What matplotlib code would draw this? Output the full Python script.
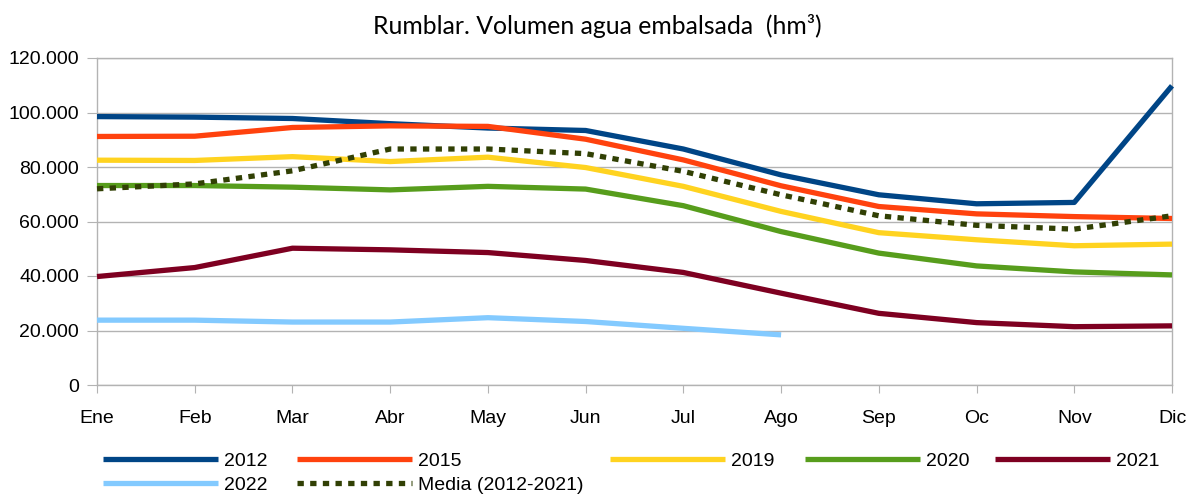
import matplotlib
matplotlib.use("Agg")
import matplotlib.pyplot as plt
from matplotlib.ticker import FuncFormatter
from matplotlib.lines import Line2D

months = ["Ene", "Feb", "Mar", "Abr", "May", "Jun", "Jul", "Ago", "Sep", "Oc", "Nov", "Dic"]

v2012 = [98500, 98300, 97800, 95900, 94300, 93400, 86600, 77100, 69800, 66500, 67000, 109800]
v2015 = [91200, 91300, 94500, 95100, 94900, 90200, 82600, 73100, 65500, 62800, 61800, 61100]
v2019 = [82500, 82400, 83800, 82000, 83600, 79800, 72900, 63700, 55900, 53300, 51100, 51700]
v2020 = [73200, 73200, 72600, 71600, 72900, 71900, 65800, 56300, 48400, 43700, 41500, 40400]
v2021 = [39800, 43100, 50200, 49600, 48600, 45700, 41300, 33700, 26300, 22900, 21400, 21700]
v2022 = [23800, 23800, 23100, 23100, 24700, 23300, 20800, 18400]
media = [72000, 73800, 78600, 86600, 86600, 84900, 78400, 69800, 62100, 58600, 57200, 62100]

series = [
    ("2012", v2012, "#004586"),
    ("2015", v2015, "#ff420e"),
    ("2019", v2019, "#ffd320"),
    ("2020", v2020, "#579d1c"),
    ("2021", v2021, "#7e0021"),
    ("2022", v2022, "#83caff"),
]

W, H = 1195, 495
LW = 3.8
DOTS = (0, (1.2, 1.2))

fig = plt.figure(figsize=(W / 100, H / 100), dpi=100)
ax = fig.add_axes([97 / W, 1 - 385 / H, (1172 - 97) / W, (385 - 58) / H])

plt.rcParams['font.family'] = ['Liberation Sans', 'DejaVu Sans']
grid_c = "#b3b3b3"

styles = {}
for name, vals, col in series:
    ax.plot(range(len(vals)), vals, color=col, lw=LW, solid_capstyle="butt",
            solid_joinstyle="round", clip_on=False, zorder=3)
    styles[name] = (col, "-")
ax.plot(range(len(media)), media, color="#314004", lw=LW,
        linestyle=DOTS, dash_capstyle="butt", clip_on=False, zorder=4)
styles["Media (2012-2021)"] = ("#314004", DOTS)

ax.set_xlim(0, 11)
ax.set_ylim(0, 120000)
ax.set_yticks(range(0, 120001, 20000))
ax.yaxis.set_major_formatter(FuncFormatter(lambda v, p: f"{v:,.0f}".replace(",", ".")))
ax.set_xticks(range(12))
ax.set_xticklabels(months)
ax.yaxis.grid(True, color=grid_c, lw=1)
ax.set_axisbelow(True)
for s in ax.spines.values():
    s.set_color(grid_c)
    s.set_linewidth(1)
ax.tick_params(axis="y", length=7, color=grid_c, pad=6, labelsize=14, labelcolor="#000000",
               labelfontfamily="Liberation Sans")
ax.tick_params(axis="x", length=6, color=grid_c, pad=12, labelsize=14, labelcolor="#000000",
               labelfontfamily="Liberation Sans")

fig.text(0.5, 1 - 26 / H, "Rumblar. Volumen agua embalsada  (hm³)", ha="center", va="center",
         fontsize=17.8, family=["Lato", "DejaVu Sans"])

# legend entries placed one by one, as in the reference
leg_pos = [
    ("2012", 103, 461), ("2015", 297, 461), ("2019", 610, 461), ("2020", 805, 461),
    ("2021", 995, 461), ("2022", 103, 485), ("Media (2012-2021)", 297, 485),
]
for name, px, py in leg_pos:
    col, ls = styles[name]
    proxy = Line2D([], [], color=col, lw=LW, linestyle=ls,
                   solid_capstyle="butt", dash_capstyle="butt")
    fig.legend(handles=[proxy], labels=[name], loc="center left",
               bbox_to_anchor=(px / W, 1 - py / H), frameon=False,
               handlelength=5.9, handletextpad=0.3, borderpad=0, borderaxespad=0,
               prop={"family": "Liberation Sans", "size": 14})

fig.savefig("out.png", dpi=100)
